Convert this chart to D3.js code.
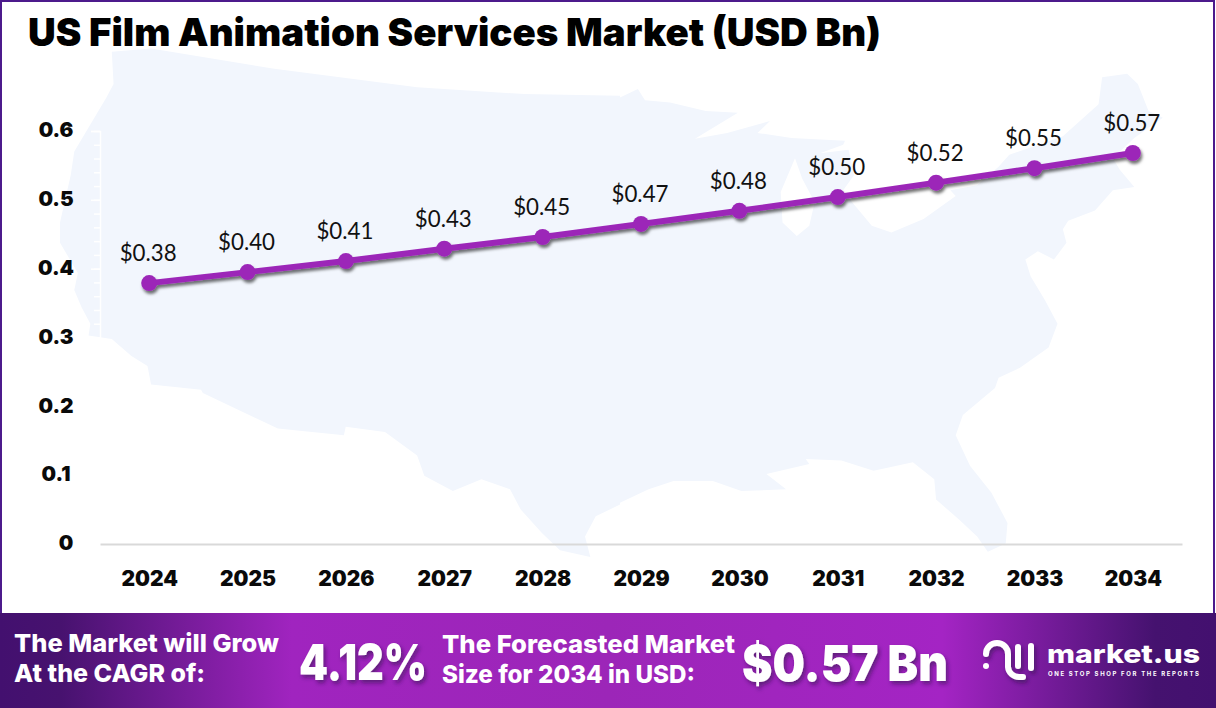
<!DOCTYPE html>
<html><head><meta charset="utf-8">
<script src="https://cdn.jsdelivr.net/npm/d3@7"></script>
<style>html,body{margin:0;padding:0;background:#fff}svg{display:block}</style></head>
<body><svg id="c" width="1216" height="708"></svg>
<script>
const years=[2024,2025,2026,2027,2028,2029,2030,2031,2032,2033,2034];
const values=[0.379,0.395,0.411,0.429,0.446,0.465,0.484,0.504,0.525,0.546,0.568];
const labels=["$0.38","$0.40","$0.41","$0.43","$0.45","$0.47","$0.48","$0.50","$0.52","$0.55","$0.57"];
const yMajor=[0,0.1,0.2,0.3,0.4,0.5,0.6];
const yMinor=[0,0.02,0.04,0.06,0.08,0.1,0.12,0.14,0.16,0.18,0.2,0.22,0.24,0.26,0.28,0.3,0.32,0.34,0.36,0.38,0.4,0.42,0.44,0.46,0.48,0.5,0.52,0.54,0.56,0.58,0.6];
const title="US Film Animation Services Market (USD Bn)";
// decorative map silhouette, traced in two halves
const mapWest=[[145,35],[255,25],[600,85],[1000,140],[1300,160],[1568,165]];
const mapEast=[[0,170],[50,145],[70,178],[140,185],[240,210],[330,215],[210,292],[300,275],[420,240],[385,275],[480,290],[630,298],[625,310],[560,335],[640,325],[655,400],[625,445],[650,480],[705,550],[760,570],[850,530],[940,462],[925,445],[1000,430],[1060,375],[1090,340],[1240,285],[1340,190],[1350,110],[1420,100],[1450,130],[1480,210],[1520,230],[1440,290],[1380,350],[1400,385],[1440,435],[1380,445],[1330,505],[1255,535],[1240,560],[1250,600],[1215,650],[1170,625],[1135,650],[1150,700],[1190,770],[1225,840],[1200,910],[1120,970],[1060,1000],[1050,1030],[960,1110],[940,1170],[980,1260],[1040,1340],[1085,1430],[1080,1490],[1030,1515],[1000,1470],[950,1420],[885,1360],[880,1300],[820,1250],[710,1275],[620,1245],[520,1240],[530,1255],[410,1285],[465,1330],[340,1335],[260,1305],[150,1305],[80,1330],[0,1370]];
const mapSouth=[[1568,1375],[1500,1410],[1470,1470],[1485,1530],[1400,1510],[1350,1460],[1290,1390],[1260,1330],[1180,1300],[1100,1335],[1020,1290],[1000,1230],[910,1160],[800,1145],[795,1170],[610,1150],[400,1045],[395,1035],[255,1020],[245,965],[200,935],[145,885],[80,875],[85,840],[60,790],[40,740],[50,690],[0,600],[0,540],[30,400],[40,330],[130,170],[150,130]];
const lakeMichigan=[[490,350],[450,450],[455,540],[495,580],[530,550],[545,480],[510,410]];

const svg=d3.select("#c");
const defs=svg.append("defs");
const g=defs.append("linearGradient").attr("id","band");
[[0,"#43106f"],[0.05,"#47126f"],[0.24,"#a024bf"],[0.5,"#9c26b8"],[0.775,"#a424c4"],[0.95,"#45126f"],[1,"#43106f"]].forEach(s=>g.append("stop").attr("offset",s[0]).attr("stop-color",s[1]));
const mk=(id,dx,dy,b,c,o)=>{const f=defs.append("filter").attr("id",id).attr("x","-20%").attr("y","-50%").attr("width","140%").attr("height","220%");
 f.append("feDropShadow").attr("dx",dx).attr("dy",dy).attr("stdDeviation",b).attr("flood-color",c).attr("flood-opacity",o);};
mk("ls",1.5,3,1.6,"#000",0.55);mk("ts",2,3,2,"#2a0a45",0.55);

const west=p=>[60+p[0]/2.8,40+p[1]/2.96], east=p=>[620+p[0]/2.8,40+p[1]/2.96];
const ln=d3.line();
svg.append("path").attr("fill","#f2f6fd").attr("fill-rule","evenodd")
 .attr("d",ln([...mapWest.map(west),...mapEast.map(east),...mapSouth.map(west)])+"Z"+ln(lakeMichigan.map(east))+"Z");

svg.append("rect").attr("x",1).attr("y",1).attr("width",1213).attr("height",620).attr("fill","none").attr("stroke","#4c1a8c").attr("stroke-width",2);

const x=d3.scalePoint().domain(years).range([100,1182]).padding(0.5);
const y=d3.scaleLinear().domain([0,0.6]).range([544,131]);

const major=svg.append("g").attr("transform","translate(100,0)").call(d3.axisLeft(y).tickValues(yMajor).tickSize(9).tickFormat(d=>d===0?"0":d3.format(".1f")(d)));
major.selectAll("line").attr("stroke","#fff").attr("stroke-width",1.5);
major.select(".domain").attr("stroke","#fff").attr("stroke-width",1.5);
major.selectAll("text").attr("x",d=>d===0?-34:-44).attr("dy","0.28em").attr("text-anchor","middle").attr("font-family","Inter").attr("font-weight",900).attr("font-size",20.5).attr("fill","#0a0a0a");
const minor=svg.append("g").attr("transform","translate(100,0)").call(d3.axisLeft(y).tickValues(yMinor).tickSize(6).tickFormat(""));
minor.selectAll("line").attr("stroke","#fff").attr("stroke-width",1.5);minor.select(".domain").remove();

const xa=svg.append("g").attr("transform","translate(0,544)").call(d3.axisBottom(x).tickSize(0).tickPadding(27).tickFormat(d3.format("d")));
xa.select(".domain").attr("stroke","#d9d9d9").attr("stroke-width",2);
xa.selectAll("text").attr("font-family","Inter").attr("font-weight",900).attr("font-size",21).attr("fill","#0a0a0a");

const series=svg.append("g").attr("filter","url(#ls)");
series.append("path").attr("fill","none").attr("stroke","#9c27b8").attr("stroke-width",6)
 .attr("d",d3.line().x((d,i)=>x(years[i])).y(d=>y(d))(values));
series.selectAll("circle").data(values).join("circle").attr("cx",(d,i)=>x(years[i])).attr("cy",d=>y(d)).attr("r",8).attr("fill","#9c27b8");

svg.selectAll("text.lab").data(values).join("text").attr("class","lab").attr("x",(d,i)=>x(years[i])-1).attr("y",d=>y(d)-22)
 .attr("text-anchor","middle").attr("font-family","Lato").attr("font-size",23.5).attr("fill","#111").attr("textLength",57).attr("lengthAdjust","spacingAndGlyphs").text((d,i)=>labels[i]);

svg.append("text").attr("x",28).attr("y",46).attr("font-family","Inter").attr("font-weight",900).attr("font-size",38.5).attr("fill","#000").attr("textLength",853).attr("lengthAdjust","spacingAndGlyphs").text(title);

svg.append("rect").attr("x",0).attr("y",613).attr("width",1216).attr("height",95).attr("fill","url(#band)");
const bt=(t,xx,yy,fs,w,extra)=>{const s=svg.append("text").attr("x",xx).attr("y",yy).attr("font-family","Inter").attr("font-weight",800).attr("font-size",fs).attr("fill","#fff").text(t);if(w)s.attr("textLength",w).attr("lengthAdjust","spacingAndGlyphs");if(extra)s.attr("filter","url(#ts)").attr("font-weight",900);return s;};
bt("The Market will Grow",14,652,25,265);
bt("At the CAGR of:",14,682,25,191);
bt("4.12%",299,680,49,128,true);
bt("The Forecasted Market",442,653,25,293);
bt("Size for 2034 in USD:",442,683,25,253);
bt("$0.57 Bn",742,681,50,206,true);
// logo
const lg=svg.append("g").attr("fill","none").attr("stroke","#fff").attr("stroke-width",6).attr("stroke-linecap","round").attr("filter","url(#ts)");
lg.append("path").attr("d","M986 654a11 11 0 0 1 22 0V667a11 11 0 0 0 11 10h4");
lg.append("path").attr("d","M1018 647V666");
lg.append("path").attr("d","M1031 646V668");
svg.append("circle").attr("cx",986).attr("cy",666).attr("r",3).attr("fill","#fff");
bt("market.us",1047,663,26,153);
svg.append("text").attr("x",1048).attr("y",676).attr("font-family","Inter").attr("font-weight",700).attr("font-size",6).attr("fill","#fff").attr("textLength",151).text("ONE STOP SHOP FOR THE REPORTS");
</script></body></html>
